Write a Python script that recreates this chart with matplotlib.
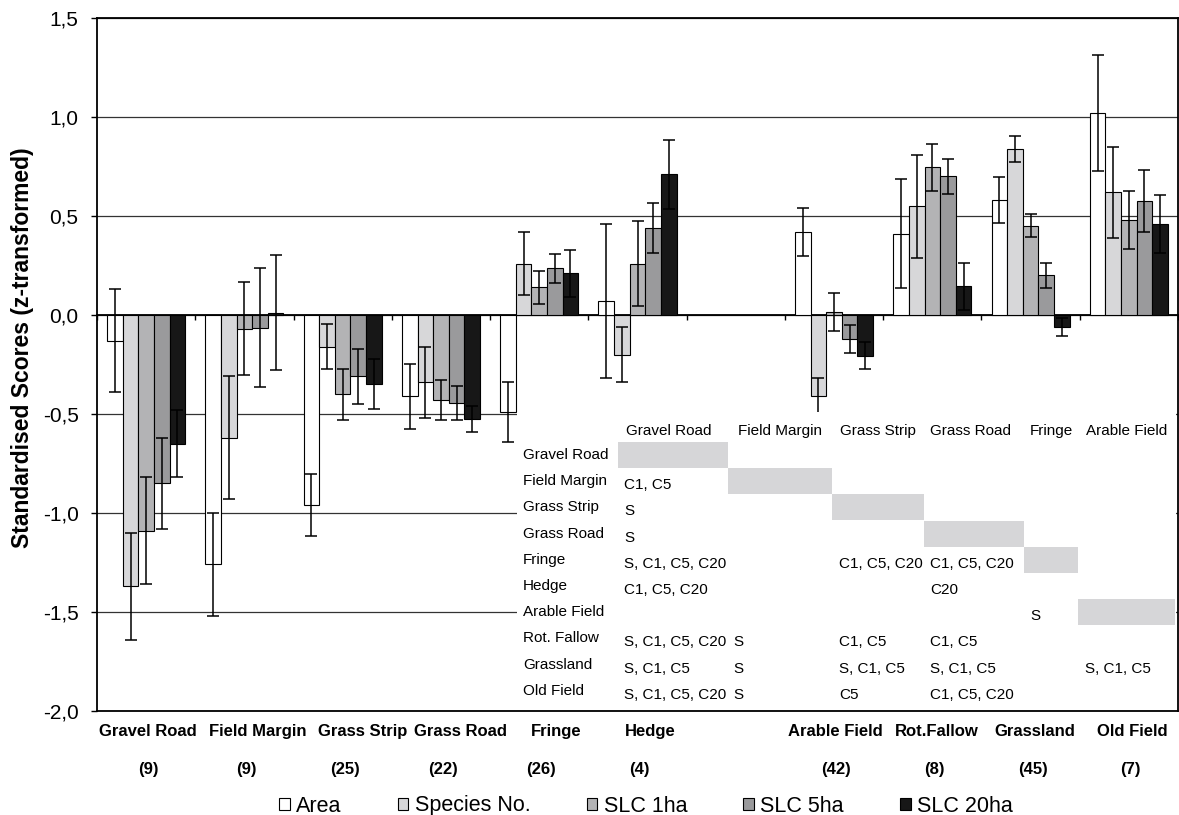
import numpy as np
import matplotlib
matplotlib.use('Agg')
import matplotlib.pyplot as plt
from matplotlib.patches import Patch, Rectangle
from matplotlib.ticker import FuncFormatter

plt.rcParams['font.family'] = ['Liberation Sans', 'DejaVu Sans']

###########
# DATA
###########
habitats = ['Gravel Road', 'Field Margin', 'Grass Strip', 'Grass Road', 'Fringe', 'Hedge',
            '', 'Arable Field', 'Rot.Fallow', 'Grassland', 'Old Field']
sample_sizes = ['(9)', '(9)', '(25)', '(22)', '(26)', '(4)', '', '(42)', '(8)', '(45)', '(7)']

series_names = ['Area', 'Species No.', 'SLC 1ha', 'SLC 5ha', 'SLC 20ha']
nan = np.nan

area = [-0.13, -1.26, -0.96, -0.41, -0.49, 0.07, nan, 0.42, 0.41, 0.58, 1.02]
area_err = [0.26, 0.26, 0.155, 0.165, 0.15, 0.39, nan, 0.12, 0.275, 0.115, 0.295]

species = [-1.37, -0.62, -0.16, -0.34, 0.26, -0.20, nan, -0.41, 0.55, 0.84, 0.62]
species_err = [0.27, 0.31, 0.115, 0.18, 0.16, 0.14, nan, 0.09, 0.26, 0.065, 0.23]

slc1 = [-1.09, -0.07, -0.40, -0.43, 0.14, 0.26, nan, 0.015, 0.745, 0.45, 0.48]
slc1_err = [0.27, 0.235, 0.128, 0.10, 0.084, 0.213, nan, 0.095, 0.12, 0.058, 0.146]

slc5 = [-0.85, -0.065, -0.31, -0.445, 0.235, 0.44, nan, -0.12, 0.70, 0.20, 0.575]
slc5_err = [0.23, 0.30, 0.14, 0.085, 0.072, 0.125, nan, 0.07, 0.09, 0.063, 0.158]

slc20 = [-0.65, 0.012, -0.35, -0.525, 0.21, 0.71, nan, -0.205, 0.145, -0.06, 0.46]
slc20_err = [0.17, 0.29, 0.126, 0.067, 0.117, 0.173, nan, 0.07, 0.12, 0.047, 0.146]

series_vals = [area, species, slc1, slc5, slc20]
series_errs = [area_err, species_err, slc1_err, slc5_err, slc20_err]

# pairwise significance table (inset)
table_cols = ['Gravel Road', 'Field Margin', 'Grass Strip', 'Grass Road', 'Fringe', 'Arable Field']
table_rows = ['Gravel Road', 'Field Margin', 'Grass Strip', 'Grass Road', 'Fringe', 'Hedge',
              'Arable Field', 'Rot. Fallow', 'Grassland', 'Old Field']
table_cells = [
    ['', '', '', '', '', ''],
    ['C1, C5', '', '', '', '', ''],
    ['S', '', '', '', '', ''],
    ['S', '', '', '', '', ''],
    ['S, C1, C5, C20', '', 'C1, C5, C20', 'C1, C5, C20', '', ''],
    ['C1, C5, C20', '', '', 'C20', '', ''],
    ['', '', '', '', 'S', ''],
    ['S, C1, C5, C20', 'S', 'C1, C5', 'C1, C5', '', ''],
    ['S, C1, C5', 'S', 'S, C1, C5', 'S, C1, C5', '', 'S, C1, C5'],
    ['S, C1, C5, C20', 'S', 'C5', 'C1, C5, C20', '', ''],
]

###########
# STYLE / LAYOUT
###########
colours = ['white', '#d7d7d9', '#b3b3b5', '#9a9a9c', '#171717']
block_grey = '#d6d6d8'
W, H = 1179, 815
# label offsets (category units) for the habitat names under the axis
name_shift = [0.02, 0.14, 0.20, 0.20, 0.17, 0.13, 0.0, 0.01, 0.05, 0.04, 0.04]

###########
# CREATING THE GRAPH
###########
fig = plt.figure(figsize=(W / 100, H / 100), dpi=100)
ax = fig.add_axes([97 / W, 1 - 711 / H, (1178 - 97) / W, (711 - 18) / H])

x = np.arange(len(habitats))
w = 0.159
for j, (vals, errs) in enumerate(zip(series_vals, series_errs)):
    pos = x + (j - 2) * w
    ax.bar(pos, vals, w, color=colours[j], edgecolor='black', linewidth=0.8, zorder=3)
    ax.errorbar(pos, vals, yerr=errs, fmt='none', ecolor='black', elinewidth=1.1,
                capsize=4, capthick=1.1, zorder=4)

ax.set_xlim(-0.5, len(habitats) - 0.5)
ax.set_ylim(-2.0, 1.5)
ax.set_yticks(np.arange(-2.0, 1.51, 0.5))
ax.yaxis.set_major_formatter(FuncFormatter(lambda v, p: f'{v:.1f}'.replace('.', ',')))
ax.tick_params(axis='y', direction='out', length=4.3, width=1, pad=9, labelsize=15)

# category axis sits at zero, with tick marks between the groups
ax.spines['bottom'].set_position(('data', 0))
ax.set_xticks(np.arange(-0.5, len(habitats), 1))
ax.set_xticklabels([])
ax.tick_params(axis='x', direction='out', length=3.6, width=1)
for side in ['left', 'right', 'top', 'bottom']:
    ax.spines[side].set_linewidth(1.3)
ax.axhline(-2.0, color='black', linewidth=1.3, clip_on=False, zorder=5)

ax.yaxis.grid(True, color='#333333', linewidth=0.9)
ax.set_axisbelow(True)

for i, (name, n) in enumerate(zip(habitats, sample_sizes)):
    ax.text(i + name_shift[i], -2.104, name, ha='center', va='center',
            fontsize=12, fontweight='bold', clip_on=False)
    ax.text(i + 0.02, -2.295, n, ha='center', va='center',
            fontsize=12, fontweight='bold', clip_on=False)

fig.text(23 / W, 1 - 348 / H, 'Standardised Scores (z-transformed)', rotation=90,
         ha='center', va='center', fontsize=16.5, fontweight='bold')

handles = [Patch(facecolor=c, edgecolor='black', linewidth=0.8) for c in colours]
fig.legend(handles, series_names, loc='center', bbox_to_anchor=(646 / W, 1 - 806 / H),
           ncol=5, frameon=False, fontsize=15.5, handlelength=0.5, handleheight=0.5,
           handletextpad=0.3, columnspacing=2.6, borderpad=0, borderaxespad=0)

###########
# INSET TABLE
###########
tab = fig.add_axes([517 / W, 1 - 708 / H, (1176 - 517) / W, (708 - 412) / H])
tab.set_xlim(517, 1176)
tab.set_ylim(708, 412)
tab.set_xticks([])
tab.set_yticks([])
for s in tab.spines.values():
    s.set_visible(False)
tab.set_facecolor('white')

head_x = [626, 738, 840, 930, 1030, 1086]
cell_x = [624, 733, 839, 930, 1030, 1085]
block_edges = [618, 728, 832, 924, 1024, 1078, 1175]
row_y = [455 + 26.2 * r for r in range(len(table_rows))]

for c, col in enumerate(table_cols):
    tab.text(head_x[c], 431, col, ha='left', va='center', fontsize=11)

for r, row in enumerate(table_rows):
    tab.text(523, row_y[r], row, ha='left', va='center', fontsize=11)
    for c, col in enumerate(table_cols):
        if col == row:
            tab.add_patch(Rectangle((block_edges[c], row_y[r] - 13),
                                    block_edges[c + 1] - block_edges[c], 26,
                                    facecolor=block_grey, edgecolor='none'))
        if table_cells[r][c]:
            tab.text(cell_x[c], row_y[r] + 4, table_cells[r][c], ha='left', va='center',
                     fontsize=11)

fig.savefig('out.png', dpi=100)
